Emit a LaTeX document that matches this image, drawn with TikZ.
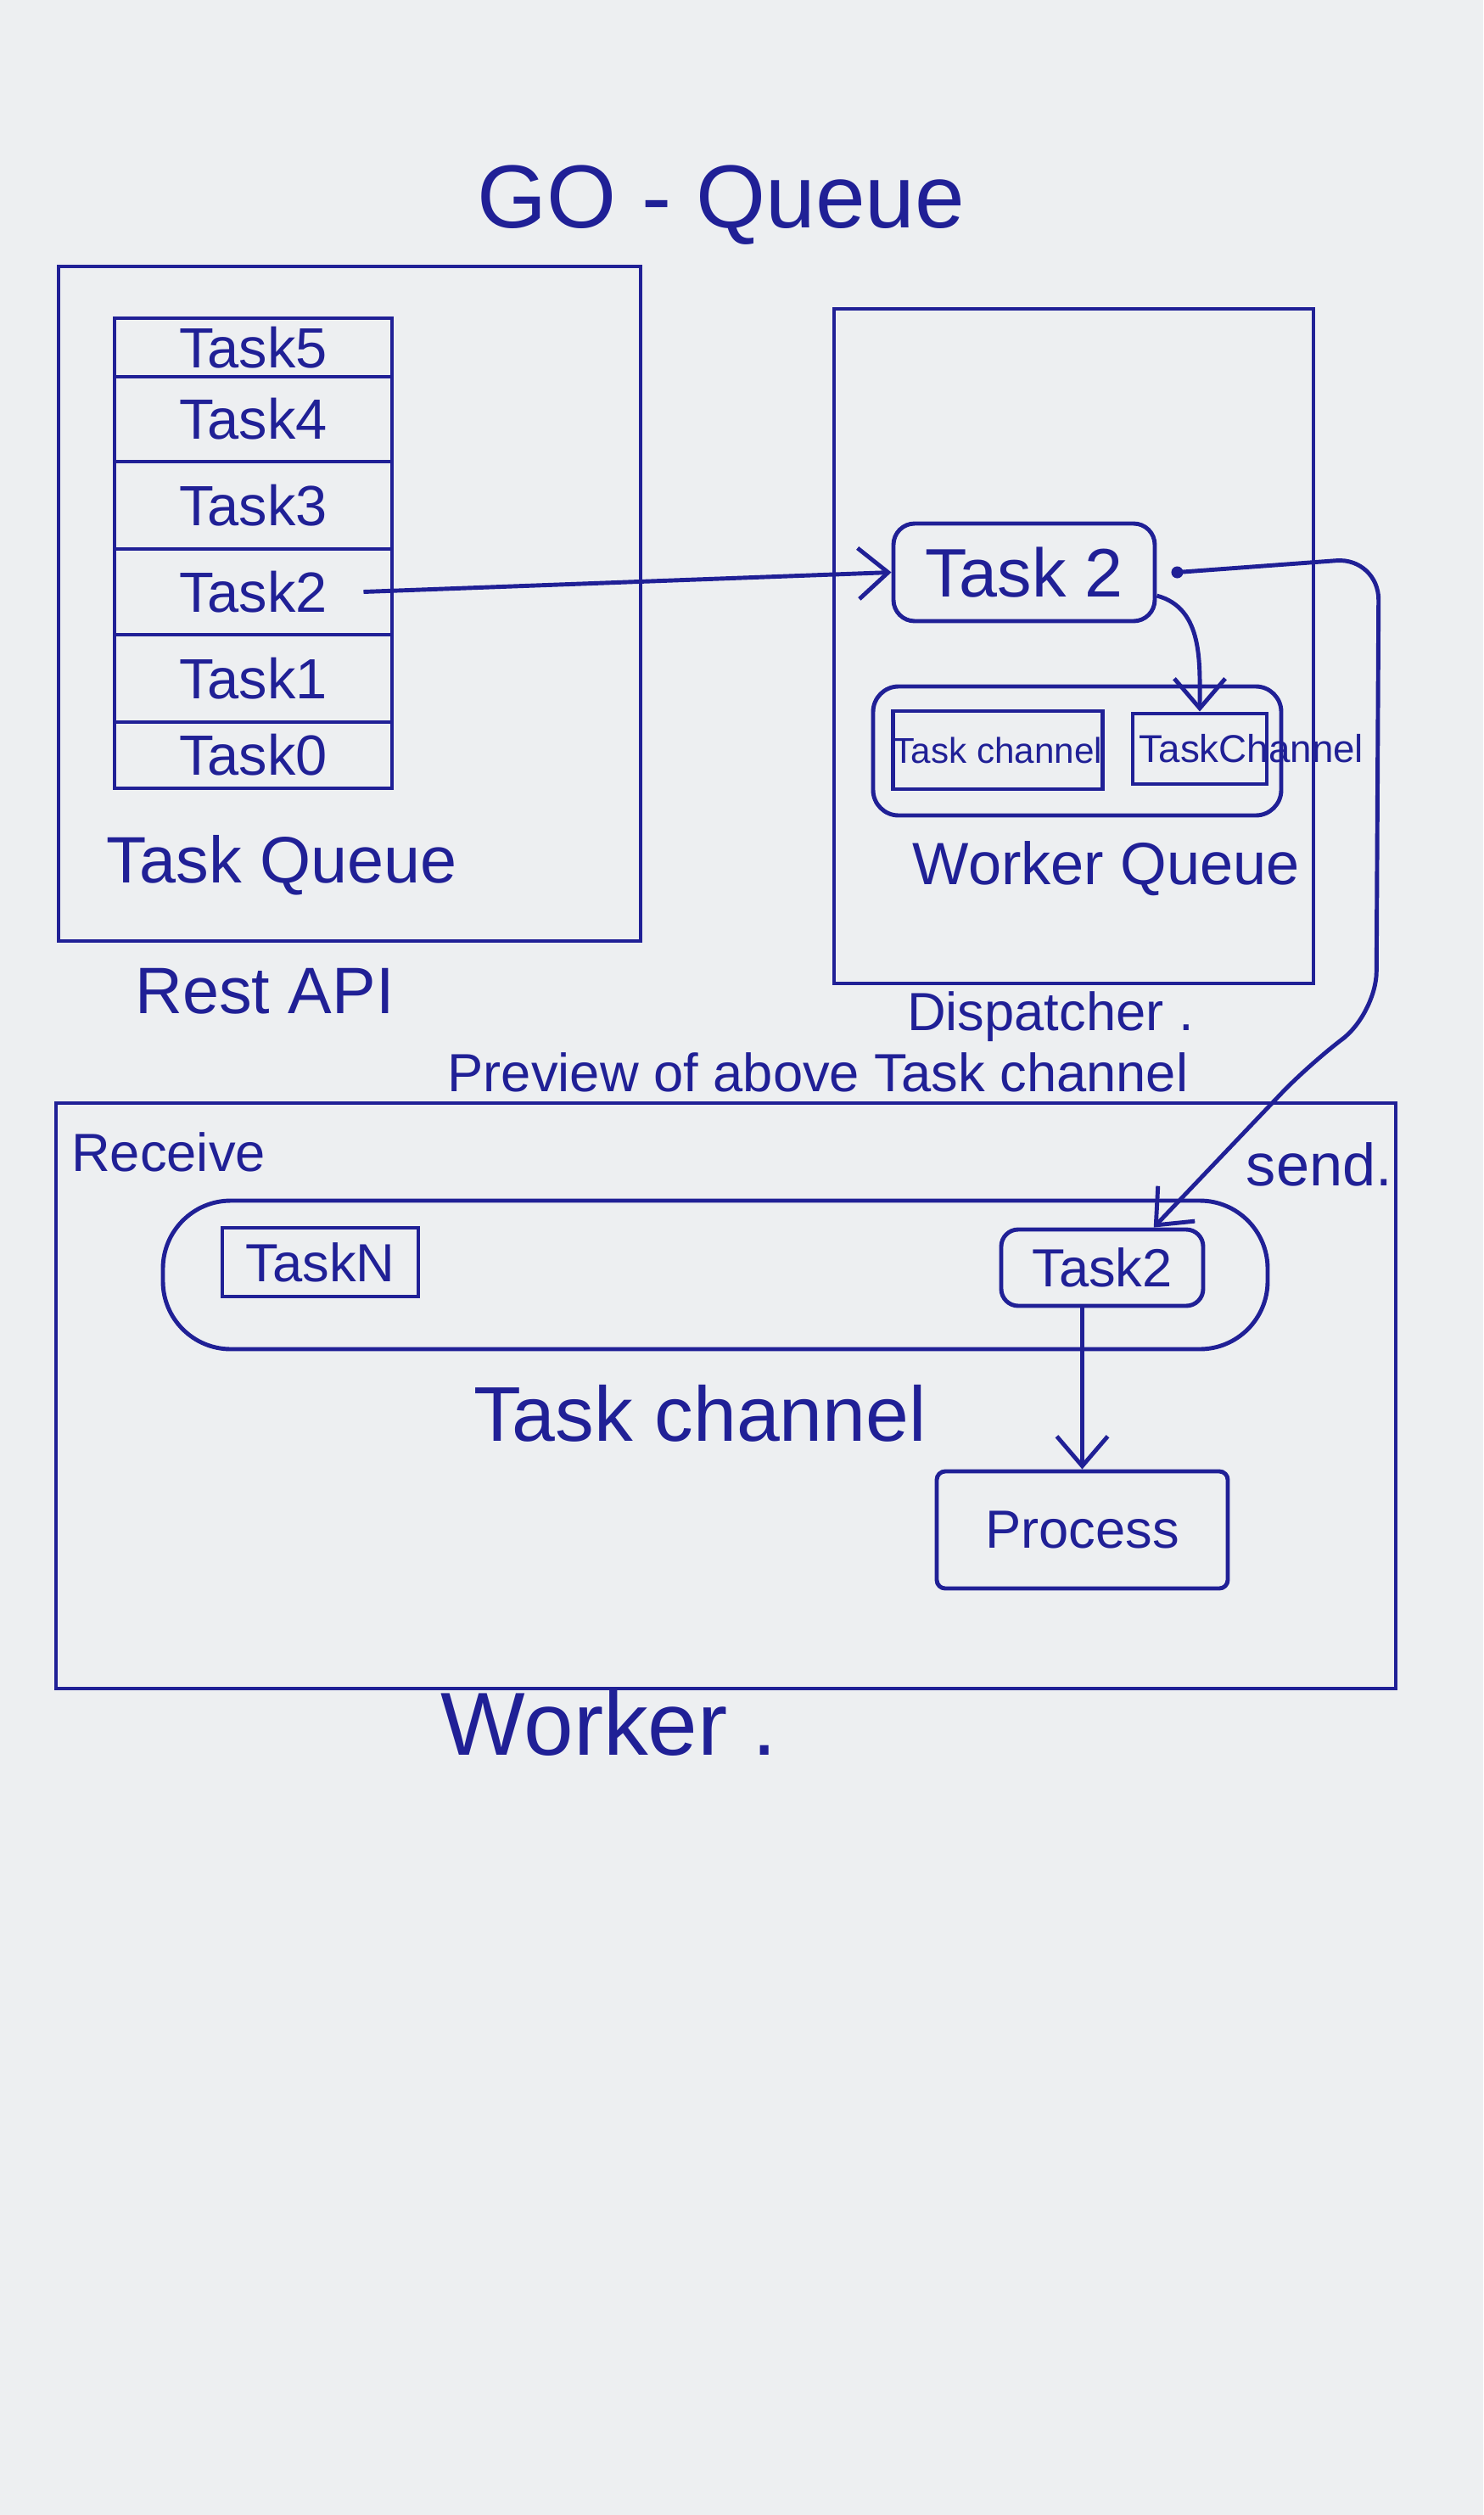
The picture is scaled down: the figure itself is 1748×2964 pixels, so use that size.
\documentclass[tikz,border=0pt]{standalone}
\usepackage{fontspec}
\setmainfont{Liberation Sans}
\usetikzlibrary{arrows.meta,calc}
\definecolor{ink}{RGB}{32,32,150}
\definecolor{paper}{RGB}{237,239,241}
\newcommand\myfs[1]{\fontsize{#1pt}{#1pt}\selectfont}
\tikzset{
  lbl/.style={text=ink, inner sep=1pt},
  box/.style={draw=ink, text=ink, line width=1.4pt, rectangle, inner sep=0pt},
  sz/.style 2 args={minimum width=#1*0.01cm, minimum height=#2*0.01cm},
  conn/.style={draw=ink, line width=1.4pt, -{Straight Barb[length=0.35cm,width=0.6cm]}},
}
\begin{document}
\begin{tikzpicture}[x=0.01cm,y=-0.01cm]
\fill[paper] (0,0) rectangle (1748,2964);
\useasboundingbox (0,0) rectangle (1748,2964);

% title
\node[lbl, font=\myfs{30}] (title) at (850,242) {GO - Queue};

% Rest API
\node[box, sz={686}{795}] (rest) at (412,711.5) {};
\node[box, sz={327}{69},  font=\myfs{19}] (t5) at (298.5,409.5) {Task5};
\node[box, sz={327}{100}, font=\myfs{19}] (t4) at (298.5,494) {Task4};
\node[box, sz={327}{103}, font=\myfs{19}] (t3) at (298.5,595.5) {Task3};
\node[box, sz={327}{101}, font=\myfs{19}] (t2) at (298.5,697.5) {Task2};
\node[box, sz={327}{103}, font=\myfs{19}] (t1) at (298.5,799.5) {Task1};
\node[box, sz={327}{78},  font=\myfs{19}] (t0) at (298.5,890) {Task0};
\node[lbl, font=\myfs{22}] (tq) at (332,1020) {Task Queue};
\node[lbl, font=\myfs{22}] (rapi) at (312,1168) {Rest API};

% Dispatcher
\node[box, sz={565}{795}] (disp) at (1265.5,761.5) {};
\node[box, rounded corners=0.25cm, sz={308}{115}, font=\myfs{23}] (dtask2) at (1207,674.5) {Task 2};
\node[box, rounded corners=0.3cm, sz={481}{152}] (wq) at (1269.5,885) {};
\node[box, sz={236}{92}, font=\myfs{12}] (tc1) at (1176,884) {Task channel};
\node[box, sz={158}{83}] (tc2) at (1414,882.5) {};
\node[lbl, font=\myfs{13}, anchor=west, inner sep=0pt] (tc2txt) at (1342,882.5) {TaskChannel};
\node[lbl, font=\myfs{20}] (wql) at (1304,1024) {Worker Queue};
\node[lbl, font=\myfs{18}] (displ) at (1238,1198) {Dispatcher .};

% Worker
\node[box, sz={1579}{690}] (worker) at (855.5,1645) {};
\node[lbl, font=\myfs{18}] (prev) at (964,1264) {Preview of above Task channel};
\node[lbl, font=\myfs{18}, anchor=west] (recv) at (80,1358) {Receive};
\node[lbl, font=\myfs{20}] (send) at (1555,1372) {send.};
\node[box, rounded corners=0.8cm, sz={1302}{175}] (chan) at (843,1502.5) {};
\node[box, sz={231}{81}, font=\myfs{18}] (taskn) at (377.5,1487.5) {TaskN};
\node[box, rounded corners=0.2cm, sz={238}{90}, font=\myfs{18}] (ctask2) at (1299,1494) {Task2};
\node[lbl, font=\myfs{26}] (tcl) at (825,1666) {Task channel};
\node[box, rounded corners=0.1cm, sz={343}{138}, font=\myfs{18}] (proc) at (1275.5,1803) {Process};
\node[lbl, font=\myfs{30}] (wl) at (718,2031) {Worker .};

% connectors
\draw[conn] ($(t2.east)+(-36,0)$) -- (dtask2.west);
\draw[conn] (dtask2.-10) to[out=-15,in=90] (tc2.north);

\coordinate (ds) at ($(dtask2.east)+(24,0)$);
\coordinate (w1) at (1625,657);
\coordinate (w2) at (1622,1195);
\coordinate (w3) at (1545,1252);
\coordinate (ct) at ($(ctask2.north)!0.5!(ctask2.north east)$);
\fill[ink] (ds) circle[radius=0.07cm];
\draw[conn, rounded corners=0.5cm] (ds) -- (w1) -- (w2) -- (w3) -- (ct);

\draw[conn] (ctask2.south -| proc.north) -- (proc.north);
\end{tikzpicture}
\end{document}
